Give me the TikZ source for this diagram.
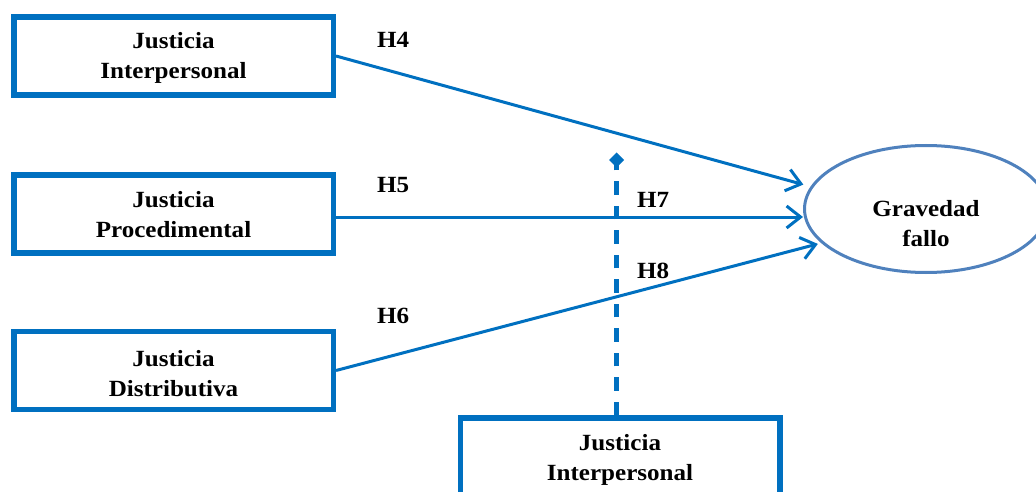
\documentclass[tikz,border=0pt]{standalone}
\usepackage{fontspec}
\setmainfont{Liberation Serif}[FakeStretch=1.08]
\usetikzlibrary{arrows.meta,shapes.geometric}
\definecolor{boxblue}{RGB}{0,112,192}
\definecolor{ovalblue}{RGB}{79,129,189}
% two centred lines; #1 = strut height of the first line (sets vertical placement)
\newcommand{\twoline}[3]{\rule{0pt}{#1}#2\\#3\rule[-6pt]{0pt}{6pt}}

\begin{document}
\begin{tikzpicture}[x=1pt,y=-1pt,
  every node/.style={font=\bfseries\fontsize{23.2}{30}\selectfont, text=black},
  construct/.style={draw=boxblue, line width=5.5pt, minimum width=319.5pt,
    minimum height=78pt, inner sep=0pt, align=center},
  outcome/.style={ellipse, draw=ovalblue, line width=3pt, minimum width=243pt,
    minimum height=127pt, inner sep=0pt},
  effect/.style={draw=boxblue, line width=3pt,
    -{Straight Barb[length=14pt,width=22pt]}},
  moderation/.style={draw=boxblue, line width=4.5pt,
    dash pattern=on 13.5pt off 11pt, -{Diamond[length=15pt,width=15pt]}},
  hyp/.style={anchor=base west, inner sep=0pt}
]
\useasboundingbox (0,0) rectangle (1036,492);
\clip (0,0) rectangle (1036,492);

% justice dimensions
\node[construct] (ji) at (173.5,56)  {\twoline{20.6pt}{Justicia}{Interpersonal}};
\node[construct] (jp) at (173.5,214) {\twoline{23.4pt}{Justicia}{Procedimental}};
\node[construct] (jd) at (173.5,370.5) {\twoline{28.4pt}{Justicia}{Distributiva}};
\node[construct] (jm) at (620,457)   {\twoline{22pt}{Justicia}{Interpersonal}};

% outcome
\node[outcome] (gf) at (926,209) {};
\node[align=center] (gft) at (926,223.5) {Gravedad\\fallo};

% direct effects
\coordinate (p5) at ([yshift=-3pt]jp.east);
\draw[effect, shorten >=7.5pt] (ji.east) -- (gf.169);
\draw[effect] (p5) -- (p5 -| gf.west);
\draw[effect, shorten >=3.5pt] (jd.east) -- (gf.198);

% moderating effect
\coordinate (mtip) at (616.5,152.5);
\draw[moderation] (jm.north -| mtip) -- (mtip);

% hypothesis labels
\node[hyp] (h4) at (377,48)  {H4};
\node[hyp] (h5) at (377,193) {H5};
\node[hyp] (h6) at (377,323) {H6};
\node[hyp] (h7) at (637,207) {H7};
\node[hyp] (h8) at (637,278) {H8};
\end{tikzpicture}
\end{document}
